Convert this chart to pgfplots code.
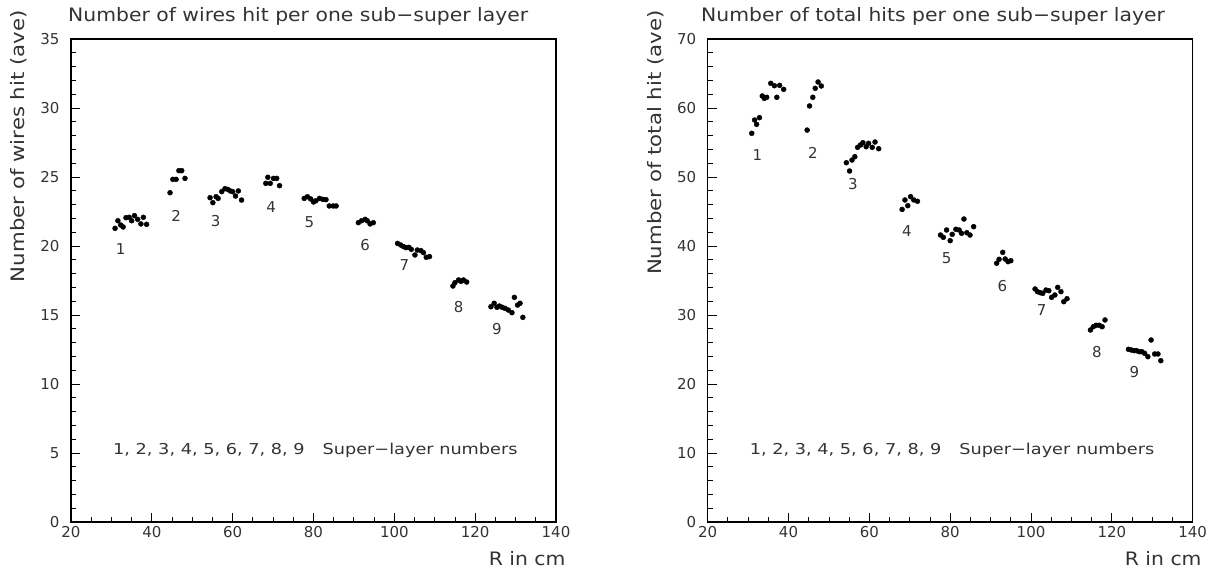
\documentclass[border=0pt]{standalone}
\usepackage{fontspec}
\setmainfont{DejaVu Sans}
\newfontfamily\wide{DejaVu Sans}[FakeStretch=1.15]
\newfontfamily\widet{DejaVu Sans}[FakeStretch=1.1]
\newfontfamily\widex{DejaVu Sans}[FakeStretch=1.18]
\usepackage{pgfplots}
\usepackage{pgfplotstable}
\pgfplotsset{compat=1.18}

\pgfplotstableread{
R v
30.9 21.28
31.6 21.83
32.3 21.52
32.9 21.38
33.6 22.05
34.4 22.08
35.0 21.83
35.7 22.20
36.5 21.93
37.3 21.60
37.9 22.08
38.7 21.57
44.5 23.86
45.2 24.83
46.0 24.83
46.7 25.46
47.4 25.46
48.2 24.90
54.4 23.50
55.1 23.14
55.9 23.57
56.4 23.45
57.3 23.94
58.1 24.15
58.8 24.10
59.4 23.99
60.0 23.94
60.7 23.62
61.4 23.99
62.2 23.33
68.2 24.54
68.7 24.98
69.3 24.54
70.1 24.90
70.9 24.90
71.6 24.37
77.7 23.45
78.5 23.57
79.3 23.41
80.0 23.19
80.6 23.28
81.5 23.45
82.3 23.38
83.1 23.36
83.9 22.90
84.9 22.90
85.6 22.90
91.1 21.69
91.9 21.83
92.8 21.93
93.3 21.83
94.0 21.60
94.8 21.69
100.8 20.19
101.6 20.07
102.3 19.95
102.9 19.88
103.6 19.90
104.2 19.76
105.1 19.35
105.7 19.71
106.6 19.66
107.2 19.52
107.9 19.18
108.7 19.23
114.5 17.10
115.0 17.34
115.9 17.54
116.5 17.44
117.1 17.54
117.9 17.39
123.9 15.60
124.7 15.85
125.4 15.56
126.0 15.65
126.7 15.56
127.4 15.48
128.2 15.36
129.1 15.17
129.7 16.28
130.5 15.72
131.1 15.85
131.8 14.83
}\wires

\pgfplotstableread{
R v
30.9 56.33
31.6 58.26
32.1 57.63
32.8 58.60
33.5 61.74
34.0 61.40
34.6 61.55
35.6 63.58
36.5 63.23
37.1 61.55
37.8 63.28
38.8 62.70
44.6 56.80
45.2 60.30
46.0 61.55
46.6 62.85
47.3 63.77
48.1 63.19
54.3 52.07
55.1 50.87
55.7 52.46
56.4 52.94
57.1 54.30
57.8 54.64
58.4 54.97
59.2 54.39
59.8 54.88
60.7 54.30
61.4 55.07
62.3 54.10
68.1 45.30
68.8 46.67
69.5 45.84
70.2 47.15
71.0 46.67
71.9 46.48
77.6 41.59
78.3 41.26
79.1 42.32
80.0 40.77
80.5 41.69
81.4 42.42
82.2 42.32
82.8 41.84
83.4 43.91
84.1 41.93
84.9 41.59
85.8 42.80
91.5 37.50
92.1 38.07
93.0 39.08
93.6 38.12
94.3 37.73
95.0 37.87
101.0 33.77
101.6 33.38
102.3 33.23
102.9 33.14
103.7 33.62
104.4 33.52
105.1 32.56
105.9 32.90
106.6 34.01
107.4 33.38
108.1 31.93
108.9 32.36
114.7 27.83
115.4 28.30
116.1 28.51
116.9 28.51
117.6 28.30
118.3 29.28
124.1 25.03
124.8 24.93
125.5 24.83
126.1 24.83
126.8 24.68
127.4 24.68
128.1 24.45
128.9 23.96
129.7 26.38
130.6 24.35
131.4 24.35
132.1 23.38
}\hits

\pgfplotsset{myax/.style={
  scale only axis, width=485pt, height=483pt,
  xmin=20, xmax=140, xtick={20,40,...,140}, minor x tick num=3,
  ymin=0,
  axis line style={line width=1.1pt},
  every tick/.style={black, line width=0.9pt},
  major tick length=9pt, minor tick length=5pt,
  tick align=inside, xtick pos=bottom, ytick pos=left,
  ticklabel style={font=\fontsize{15}{15}\selectfont, text=black!80},
  /pgf/number format/assume math mode=true,
  yticklabel style={xshift=-8pt},
  xticklabel style={yshift=-1pt},
  clip=false,
  anchor=south west,
}}
\newcommand{\lab}{\fontsize{15}{15}\selectfont}
\newcommand{\bigf}{\wide\fontsize{18.5}{18.5}\selectfont}
\newcommand{\bigt}{\widet\fontsize{18.5}{18.5}\selectfont}
\newcommand{\txt}{\widex\fontsize{15}{15}\selectfont}

\begin{document}
\begin{tikzpicture}
\useasboundingbox (0,0) rectangle (1215pt,571pt);
\begin{axis}[myax, at={(71pt,49pt)}, ymax=35, ytick={0,5,...,35}, minor y tick num=4, name=L]
\addplot[only marks, mark=*, mark size=2.5pt, black] table[x=R,y=v]{\wires};
\node[font=\lab, text=black!80] at (axis cs:32.3,19.8) {1};
\node[font=\lab, text=black!80] at (axis cs:46.0,22.2) {2};
\node[font=\lab, text=black!80] at (axis cs:55.8,21.8) {3};
\node[font=\lab, text=black!80] at (axis cs:69.5,22.85) {4};
\node[font=\lab, text=black!80] at (axis cs:79.0,21.76) {5};
\node[font=\lab, text=black!80] at (axis cs:92.8,20.07) {6};
\node[font=\lab, text=black!80] at (axis cs:102.5,18.6) {7};
\node[font=\lab, text=black!80] at (axis cs:115.9,15.56) {8};
\node[font=\lab, text=black!80] at (axis cs:125.4,14.0) {9};
\node[font=\txt, text=black!80, anchor=base west, inner sep=0pt] at (axis cs:30.4,4.9) {1, 2, 3, 4, 5, 6, 7, 8, 9\hspace{1.2em}Super−layer numbers};
\end{axis}
\begin{axis}[myax, at={(707.7pt,49pt)}, ymax=70, ytick={0,10,...,70}, minor y tick num=4, name=R]
\addplot[only marks, mark=*, mark size=2.5pt, black] table[x=R,y=v]{\hits};
\node[font=\lab, text=black!80] at (axis cs:32.3,53.2) {1};
\node[font=\lab, text=black!80] at (axis cs:46.0,53.5) {2};
\node[font=\lab, text=black!80] at (axis cs:55.9,49.0) {3};
\node[font=\lab, text=black!80] at (axis cs:69.3,42.2) {4};
\node[font=\lab, text=black!80] at (axis cs:79.1,38.2) {5};
\node[font=\lab, text=black!80] at (axis cs:92.9,34.2) {6};
\node[font=\lab, text=black!80] at (axis cs:102.6,30.7) {7};
\node[font=\lab, text=black!80] at (axis cs:116.3,24.7) {8};
\node[font=\lab, text=black!80] at (axis cs:125.6,21.8) {9};
\node[font=\txt, text=black!80, anchor=base west, inner sep=0pt] at (axis cs:30.4,9.8) {1, 2, 3, 4, 5, 6, 7, 8, 9\hspace{1.2em}Super−layer numbers};
\end{axis}
% titles and axis labels
\node[font=\bigt, text=black!80, anchor=base west, inner sep=0pt] at (68pt,549.3pt) {Number of wires hit per one sub−super layer};
\node[font=\bigt, text=black!80, anchor=base west, inner sep=0pt] at (701pt,549.3pt) {Number of total hits per one sub−super layer};
\node[font=\bigf, text=black!80, rotate=90, anchor=east, inner sep=0pt] at (19pt,561pt) {Number of wires hit (ave)};
\node[font=\bigf, text=black!80, rotate=90, anchor=east, inner sep=0pt] at (656pt,561pt) {Number of total hit (ave)};
\node[font=\bigt, text=black!80, anchor=base east, inner sep=0pt] at (565.7pt,6pt) {R in cm};
\node[font=\bigt, text=black!80, anchor=base east, inner sep=0pt] at (1201.7pt,6pt) {R in cm};
\end{tikzpicture}
\end{document}
